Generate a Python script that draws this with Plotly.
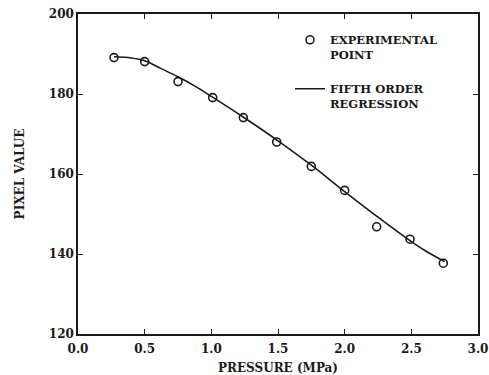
import plotly.graph_objects as go

# Experimental points
pressure_exp = [0.27, 0.50, 0.75, 1.01, 1.24, 1.49, 1.75, 2.00, 2.24, 2.49, 2.74]
pixel_exp = [189.1, 188.1, 183.1, 179.1, 174.1, 168.0, 161.9, 155.9, 146.8, 143.7, 137.7]

# Fifth order regression curve
pressure_fit = [0.27, 0.40, 0.50, 0.62, 0.75, 0.88, 1.00, 1.25, 1.50, 1.75, 2.00, 2.25, 2.50, 2.62, 2.75]
pixel_fit = [189.3, 189.0, 188.3, 186.4, 184.3, 181.9, 179.4, 174.0, 168.3, 162.2, 155.6, 149.2, 143.1, 140.5, 138.1]

x_ticks = [0.0, 0.5, 1.0, 1.5, 2.0, 2.5, 3.0]
x_ticklabels = ["0.0", "0.5", "1.0", "1.5", "2.0", "2.5", "3.0"]
y_ticks = [120, 140, 160, 180, 200]

FONT = "DejaVu Serif"
INK = "#1a1a1a"

fig = go.Figure()
fig.add_trace(go.Scatter(
    x=pressure_exp, y=pixel_exp, mode="markers",
    name="EXPERIMENTAL<br>POINT", legendgroup="exp",
    marker=dict(symbol="circle-open", size=8, color=INK, line=dict(width=1.6, color=INK)),
))
fig.add_trace(go.Scatter(
    x=pressure_fit, y=pixel_fit, mode="lines",
    name="FIFTH ORDER<br>REGRESSION", legendgroup="fit",
    line=dict(color=INK, width=1.6, shape="spline", smoothing=1.0),
))

axis_common = dict(
    showline=True, linecolor=INK, linewidth=1.5, mirror="ticks",
    ticks="inside", ticklen=5, tickwidth=1.3, tickcolor=INK,
    showgrid=False, zeroline=False, automargin=False,
    tickfont=dict(family=FONT, size=12, color=INK, weight="bold"),
)

fig.update_layout(
    width=489, height=375,
    margin=dict(l=78, r=11, t=14, b=41),
    paper_bgcolor="white", plot_bgcolor="white",
    font=dict(family=FONT, size=12, color=INK),
    xaxis=dict(range=[0, 3], tickvals=x_ticks, ticktext=x_ticklabels,
               ticklabelstandoff=3,
               title=dict(text="PRESSURE (MPa)", standoff=10,
                          font=dict(family=FONT, size=12, color=INK, weight="bold")),
               **axis_common),
    yaxis=dict(range=[120, 200], tickvals=y_ticks,
               title=dict(text="PIXEL VALUE", standoff=22,
                          font=dict(family=FONT, size=12, color=INK, weight="bold")),
               **axis_common),
    legend=dict(x=0.53, y=0.963, xanchor="left", yanchor="top",
                bgcolor="rgba(0,0,0,0)", tracegroupgap=16, itemwidth=30, valign="top",
                font=dict(family=FONT, size=11.5, color=INK, weight="bold")),
    showlegend=True,
)

fig.write_html("out.html", config={"displayModeBar": False},
               post_script="document.body.style.margin='0';")
